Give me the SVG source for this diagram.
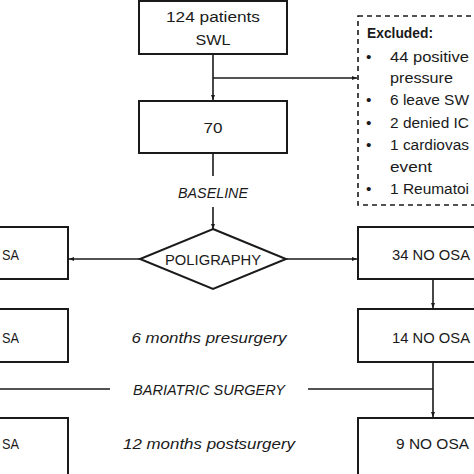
<svg xmlns="http://www.w3.org/2000/svg" width="474" height="474" viewBox="0 0 474 474">
<defs>
<style>
.box{fill:#fff;stroke:#1a1a1a;stroke-width:2}
.ln{fill:none;stroke:#1a1a1a;stroke-width:1.6}
.t{font-family:"Liberation Sans",Arial,sans-serif;font-size:15.5px;fill:#1a1a1a}
.s{font-size:15px}
.c{text-anchor:middle}
.i{font-style:italic}
</style>
<marker id="ah" viewBox="0 0 10 10" refX="10" refY="5" markerWidth="5" markerHeight="5" orient="auto" markerUnits="userSpaceOnUse">
<path d="M0,1 L10,5 L0,9 z" fill="#1a1a1a"/>
</marker>
</defs>
<rect width="474" height="474" fill="#fff"/>
<g id="connectors">
<path class="ln" d="M213,54 V100" marker-end="url(#ah)"/>
<path class="ln" d="M213,78 H357" marker-end="url(#ah)"/>
<path class="ln" d="M213,153 V176"/>
<path class="ln" d="M213,207 V229" marker-end="url(#ah)"/>
<path class="ln" d="M140,259 H69" marker-end="url(#ah)"/>
<path class="ln" d="M286,259 H357" marker-end="url(#ah)"/>
<path class="ln" d="M433,279 V308" marker-end="url(#ah)"/>
<path class="ln" d="M433,362 V417" marker-end="url(#ah)"/>
<path class="ln" d="M0,389 H110"/>
<path class="ln" d="M308,389 H433"/>
</g>
<g id="n124">
<rect class="box" x="139" y="1" width="148" height="53"/>
<text class="t c" x="213" y="22" textLength="94" lengthAdjust="spacingAndGlyphs">124 patients</text>
<text class="t c" x="213" y="45" textLength="35" lengthAdjust="spacingAndGlyphs">SWL</text>
</g>
<g id="excluded">
<rect x="358" y="16" width="140" height="189" fill="#fff" stroke="#1a1a1a" stroke-width="1.6" stroke-dasharray="5,4"/>
<text class="t" x="367" y="38" font-weight="bold" textLength="66" lengthAdjust="spacingAndGlyphs">Excluded:</text>
<g class="t">
<text x="366" y="62">•</text><text x="390" y="62" textLength="79" lengthAdjust="spacingAndGlyphs">44 positive</text>
<text x="390" y="83" textLength="63" lengthAdjust="spacingAndGlyphs">pressure</text>
<text x="366" y="105">•</text><text x="390" y="105" textLength="79" lengthAdjust="spacingAndGlyphs">6 leave SW</text>
<text x="366" y="128">•</text><text x="390" y="128" textLength="79" lengthAdjust="spacingAndGlyphs">2 denied IC</text>
<text x="366" y="150">•</text><text x="390" y="150" textLength="79" lengthAdjust="spacingAndGlyphs">1 cardiovas</text>
<text x="390" y="172" textLength="42" lengthAdjust="spacingAndGlyphs">event</text>
<text x="366" y="194">•</text><text x="390" y="194" textLength="79" lengthAdjust="spacingAndGlyphs">1 Reumatoi</text>
</g>
</g>
<g id="n70">
<rect class="box" x="139" y="101" width="148" height="52"/>
<text class="t c" x="213" y="133" textLength="19" lengthAdjust="spacingAndGlyphs">70</text>
</g>
<g id="baseline">
<text class="t c i" x="213" y="198" textLength="70" lengthAdjust="spacingAndGlyphs">BASELINE</text>
</g>
<g id="poligraphy">
<path class="box" d="M213,229 L286,259 L213,289 L140,259 Z"/>
<text class="t c" x="213" y="265" textLength="96" lengthAdjust="spacingAndGlyphs">POLIGRAPHY</text>
</g>
<g id="left1">
<rect class="box" x="-20" y="227" width="88" height="52"/>
<text class="t" x="2" y="260" textLength="17" lengthAdjust="spacingAndGlyphs">SA</text>
</g>
<g id="right1">
<rect class="box" x="358" y="227" width="130" height="52"/>
<text class="t s" x="392" y="260" textLength="78" lengthAdjust="spacingAndGlyphs">34 NO OSA</text>
</g>
<g id="left2">
<rect class="box" x="-20" y="309" width="88" height="53"/>
<text class="t" x="2" y="343" textLength="17" lengthAdjust="spacingAndGlyphs">SA</text>
</g>
<g id="right2">
<rect class="box" x="358" y="309" width="130" height="53"/>
<text class="t s" x="392" y="343" textLength="78" lengthAdjust="spacingAndGlyphs">14 NO OSA</text>
</g>
<g id="presurgery">
<text class="t c i" x="209" y="343" textLength="155" lengthAdjust="spacingAndGlyphs">6 months presurgery</text>
</g>
<g id="bariatric">
<text class="t c i" x="209" y="395" textLength="152" lengthAdjust="spacingAndGlyphs">BARIATRIC SURGERY</text>
</g>
<g id="left3">
<rect class="box" x="-20" y="418" width="88" height="60"/>
<text class="t" x="2" y="449" textLength="17" lengthAdjust="spacingAndGlyphs">SA</text>
</g>
<g id="right3">
<rect class="box" x="358" y="418" width="130" height="60"/>
<text class="t" x="396" y="449" textLength="73" lengthAdjust="spacingAndGlyphs">9 NO OSA</text>
</g>
<g id="postsurgery">
<text class="t c i" x="209" y="449" textLength="172" lengthAdjust="spacingAndGlyphs">12 months postsurgery</text>
</g>
</svg>
